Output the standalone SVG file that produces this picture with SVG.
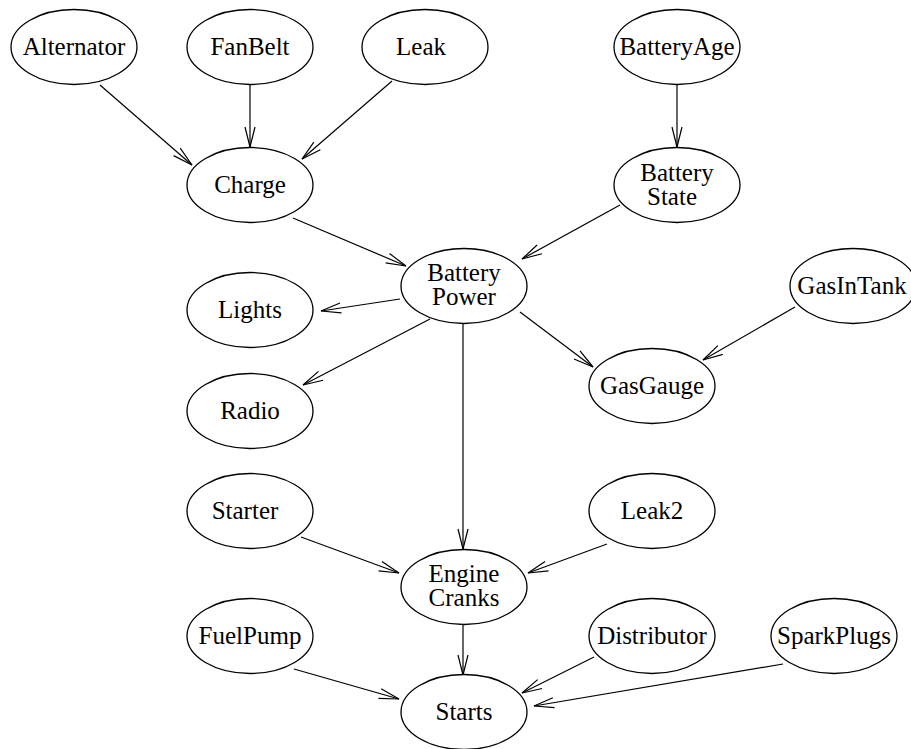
<svg xmlns="http://www.w3.org/2000/svg" width="911" height="749" viewBox="0 0 911 749">
<style>
.n ellipse{fill:#fff;stroke:#000;stroke-width:1.3}
.n text{font-family:"Liberation Serif","Times New Roman",serif;font-size:25px;fill:#000;text-anchor:middle}
#edges line{stroke:#000;stroke-width:1.2;fill:none;marker-end:url(#arr)}
</style>
<defs>
<marker id="arr" markerUnits="userSpaceOnUse" markerWidth="24" markerHeight="14" refX="21" refY="7" orient="auto" overflow="visible">
<path d="M1,2 L21,7 L1,12" fill="none" stroke="#000" stroke-width="1.2"/>
</marker>
</defs>
<rect width="911" height="749" fill="#fff"/>
<g id="edges">
<line x1="100" y1="85" x2="192" y2="165"/>
<line x1="250" y1="84" x2="250" y2="147"/>
<line x1="392" y1="81" x2="302" y2="159"/>
<line x1="677" y1="85" x2="677" y2="147"/>
<line x1="293" y1="218" x2="406" y2="266"/>
<line x1="620" y1="205" x2="522" y2="259"/>
<line x1="400" y1="299" x2="321" y2="311"/>
<line x1="430" y1="319" x2="303" y2="385"/>
<line x1="520" y1="312" x2="593" y2="367"/>
<line x1="795" y1="307" x2="703" y2="360"/>
<line x1="463" y1="324" x2="463" y2="549"/>
<line x1="301" y1="537" x2="399" y2="573"/>
<line x1="607" y1="544" x2="528" y2="573"/>
<line x1="463" y1="624" x2="463" y2="675"/>
<line x1="294" y1="669" x2="399" y2="699"/>
<line x1="594" y1="657" x2="522" y2="693"/>
<line x1="783" y1="664" x2="534" y2="706"/>
</g>
<g id="Alternator" class="n"><ellipse cx="74" cy="47" rx="63" ry="37.5"/><text x="74" y="55">Alternator</text></g>
<g id="FanBelt" class="n"><ellipse cx="250" cy="47" rx="63" ry="37.5"/><text x="250" y="55">FanBelt</text></g>
<g id="Leak" class="n"><ellipse cx="425" cy="47" rx="63" ry="37.5"/><text x="421" y="55">Leak</text></g>
<g id="BatteryAge" class="n"><ellipse cx="677" cy="47" rx="63" ry="37.5"/><text x="677" y="55">BatteryAge</text></g>
<g id="Charge" class="n"><ellipse cx="250" cy="185" rx="63" ry="37.5"/><text x="250" y="193">Charge</text></g>
<g id="BatteryState" class="n"><ellipse cx="677" cy="185" rx="63" ry="37.5"/><text x="677" y="181">Battery</text><text x="672" y="205">State</text></g>
<g id="BatteryPower" class="n"><ellipse cx="464" cy="286" rx="63" ry="37.5"/><text x="464" y="281">Battery</text><text x="464" y="305">Power</text></g>
<g id="Lights" class="n"><ellipse cx="250" cy="310" rx="63" ry="37.5"/><text x="250" y="318">Lights</text></g>
<g id="GasInTank" class="n"><ellipse cx="853" cy="286" rx="63" ry="37.5"/><text x="852" y="294">GasInTank</text></g>
<g id="Radio" class="n"><ellipse cx="250" cy="411" rx="63" ry="37.5"/><text x="250" y="419">Radio</text></g>
<g id="GasGauge" class="n"><ellipse cx="652" cy="386" rx="63" ry="37.5"/><text x="652" y="394">GasGauge</text></g>
<g id="Starter" class="n"><ellipse cx="250" cy="511" rx="63" ry="37.5"/><text x="245" y="519">Starter</text></g>
<g id="Leak2" class="n"><ellipse cx="652" cy="511" rx="63" ry="37.5"/><text x="652" y="519">Leak2</text></g>
<g id="EngineCranks" class="n"><ellipse cx="464" cy="587" rx="63" ry="37.5"/><text x="464" y="582">Engine</text><text x="464" y="606">Cranks</text></g>
<g id="FuelPump" class="n"><ellipse cx="250" cy="636" rx="63" ry="37.5"/><text x="250" y="644">FuelPump</text></g>
<g id="Distributor" class="n"><ellipse cx="652" cy="636" rx="63" ry="37.5"/><text x="652" y="644">Distributor</text></g>
<g id="SparkPlugs" class="n"><ellipse cx="834" cy="636" rx="63" ry="37.5"/><text x="834" y="644">SparkPlugs</text></g>
<g id="Starts" class="n"><ellipse cx="464" cy="712" rx="63" ry="37.5"/><text x="464" y="720">Starts</text></g>
</svg>
